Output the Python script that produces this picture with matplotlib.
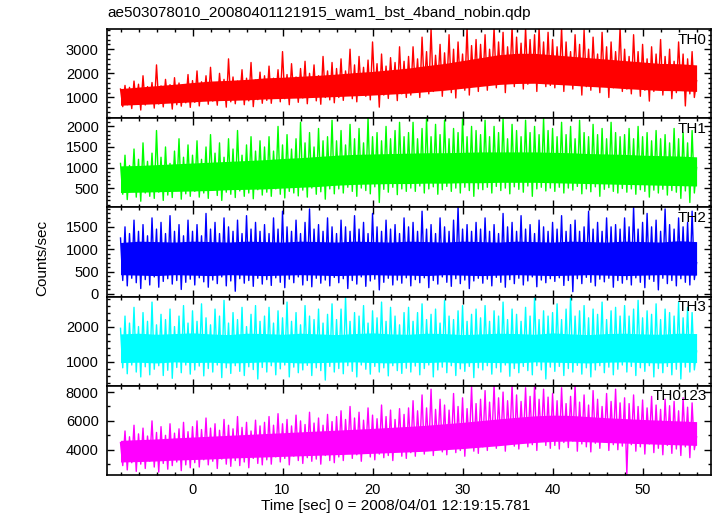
import numpy as np
import matplotlib
matplotlib.use("Agg")
import matplotlib.pyplot as plt
from matplotlib.ticker import MultipleLocator

plt.rcParams['font.family'] = ['Liberation Sans', 'DejaVu Sans']

# light curves: one sample every 0.25 s from -8 s to 56 s
# core bands: one value every 2 s over the same span
names = ["TH0", "TH1", "TH2", "TH3", "TH0123"]
colors = ["#ff0000", "#00ff00", "#0000ff", "#00ffff", "#ff00ff"]

# TH0
th0_lc = [1350, 620, 1500, 700, 1420, 540, 1680, 760, 1550, 480, 1900, 690, 1450, 820, 1620, 560, 2350, 730, 1480, 610, 1750, 850, 1530, 520, 1820, 700, 1600, 640, 1400, 780, 1950, 590,
          1700, 800, 2100, 650, 1650, 900, 1900, 720, 2250, 850, 1600, 680, 2000, 950, 1750, 600, 2600, 820, 1850, 740, 1680, 980, 2150, 700, 1800, 860, 2450, 620, 1720, 910, 2050, 760,
          1900, 880, 2300, 760, 1800, 1050, 2150, 820, 2900, 950, 1950, 700, 2400, 1100, 1850, 800, 2200, 980, 2500, 740, 2000, 1080, 2350, 860, 1900, 720, 2700, 1000, 2100, 900, 2450, 780,
          2200, 1000, 2600, 880, 2100, 1200, 3000, 950, 2350, 820, 2700, 1150, 2250, 1050, 2550, 900, 3300, 1250, 2400, 600, 2800, 1100, 2300, 960, 2650, 1280, 2450, 870, 3100, 1150, 2500, 1000,
          2700, 1100, 3100, 1300, 2600, 1000, 3500, 1400, 2900, 1150, 3850, 1250, 2750, 1450, 3200, 1050, 2850, 1350, 3600, 1200, 3000, 980, 3300, 1450, 2800, 1300, 3900, 1100, 3150, 1500, 3400, 1250,
          3200, 1500, 3600, 1300, 3000, 1700, 3900, 1400, 3300, 1600, 3700, 1200, 3100, 1750, 3900, 1450, 3500, 1650, 3250, 1350, 3900, 1550, 3400, 1700, 3600, 1250, 3900, 1600, 3300, 1450, 3700, 1500,
          3400, 1400, 3100, 1600, 3900, 1250, 3300, 1550, 2900, 1350, 3600, 1650, 3200, 1100, 3800, 1450, 3000, 1300, 3500, 1600, 2800, 1200, 3700, 1500, 3100, 1000, 3300, 1400, 2900, 1550, 3900, 1250,
          3000, 1350, 2700, 1150, 3600, 1400, 2900, 1050, 3200, 1300, 2600, 850, 3100, 1250, 2800, 1400, 3400, 1100, 2700, 1300, 3000, 950, 2500, 1200, 3300, 1350, 2800, 650, 2600, 1150, 2900, 1000,
          1700]
th0_lo = [680, 710, 740, 780, 820, 860, 880, 900, 940, 960, 980, 1010, 1040, 1070, 1100, 1140, 1180,
          1240, 1300, 1380, 1460, 1540, 1580, 1590, 1550, 1510, 1460, 1420, 1370, 1330, 1290, 1280, 1250]
th0_hi = [1370, 1430, 1490, 1550, 1620, 1680, 1710, 1750, 1810, 1840, 1880, 1920, 1970, 2030, 2080, 2150, 2220,
          2320, 2410, 2530, 2650, 2770, 2830, 2830, 2770, 2710, 2650, 2590, 2530, 2470, 2410, 2400, 2350]

# TH1
th1_lc = [1100, 350, 1300, 220, 1050, 420, 1450, 280, 1200, 180, 1600, 380, 1150, 300, 1350, 250, 1900, 400, 1250, 200, 1500, 330, 1100, 270, 1400, 440, 1700, 230, 1250, 360, 1550, 300,
          1300, 420, 1650, 280, 1200, 380, 1500, 250, 1800, 450, 1350, 320, 1600, 200, 1250, 400, 1700, 350, 1450, 270, 1900, 430, 1300, 300, 1550, 380, 1750, 240, 1400, 460, 1650, 330,
          1500, 400, 1750, 300, 1400, 480, 2000, 350, 1550, 260, 1800, 420, 1450, 380, 1700, 310, 2100, 450, 1600, 280, 1850, 500, 1500, 350, 1950, 410, 1650, 230, 1750, 480, 2150, 360,
          1650, 480, 1900, 380, 1550, 520, 2050, 420, 1700, 300, 1950, 500, 1600, 440, 2200, 360, 1750, 530, 1850, 150, 1650, 470, 2000, 400, 1700, 520, 1900, 340, 2100, 480, 1750, 420,
          1850, 500, 2100, 420, 1700, 550, 1950, 380, 2200, 480, 1750, 530, 2050, 350, 1800, 460, 2150, 540, 1700, 420, 1950, 500, 1850, 380, 2200, 520, 1750, 440, 2000, 300, 1900, 480,
          1800, 460, 2150, 520, 1750, 380, 2000, 540, 1850, 440, 2200, 500, 1700, 360, 2050, 530, 1900, 470, 1750, 400, 2150, 550, 1850, 300, 2000, 480, 1800, 520, 2200, 430, 1900, 500,
          1950, 420, 1750, 520, 2100, 380, 1800, 500, 2000, 450, 1700, 540, 2150, 360, 1850, 480, 1750, 410, 2050, 530, 1800, 300, 1950, 470, 1700, 510, 2100, 420, 1850, 380, 1750, 490,
          1800, 400, 1950, 480, 1700, 350, 2000, 460, 1750, 420, 1850, 280, 1650, 450, 1900, 380, 1700, 470, 1800, 330, 1600, 440, 1950, 400, 1700, 250, 1850, 430, 1600, 150, 1900, 380,
          1000]
th1_lo = [390, 400, 410, 420, 430, 440, 460, 470, 480, 500, 520, 540, 570, 590, 600, 610, 610,
          620, 620, 630, 630, 640, 640, 640, 630, 620, 610, 600, 590, 580, 570, 560, 550]
th1_hi = [1040, 1050, 1070, 1090, 1110, 1130, 1150, 1170, 1190, 1220, 1240, 1270, 1300, 1320, 1330, 1340, 1350,
          1360, 1360, 1370, 1380, 1380, 1380, 1380, 1370, 1360, 1340, 1330, 1320, 1300, 1290, 1280, 1260]

# TH2
th2_lc = [1250, 300, 1500, 180, 1350, 350, 1650, 250, 1400, 120, 1550, 320, 1300, 200, 1700, 380, 1450, 150, 1600, 280, 1350, 340, 1750, 220, 1400, 300, 1550, 100, 1300, 260, 1650, 330,
          1400, 200, 1550, 360, 1300, 270, 1800, 150, 1450, 310, 1600, 230, 1350, 380, 1700, 180, 1500, 290, 1400, 60, 1650, 340, 1350, 240, 1750, 300, 1450, 170, 1600, 350, 1400, 220,
          1550, 320, 1350, 190, 1700, 360, 1450, 260, 1850, 140, 1500, 330, 1400, 250, 1650, 380, 1350, 200, 1600, 300, 1900, 160, 1450, 350, 1550, 240, 1400, 310, 1700, 180, 1500, 370,
          1350, 250, 1650, 340, 1500, 120, 1400, 300, 1750, 220, 1450, 380, 1600, 170, 1350, 290, 1800, 330, 1500, 90, 1400, 260, 1650, 350, 1450, 200, 1550, 310, 1350, 240, 1700, 360,
          1500, 180, 1600, 320, 1400, 250, 1850, 360, 1450, 140, 1550, 300, 1350, 220, 1700, 380, 1500, 260, 1400, 170, 1650, 340, 1950, 230, 1450, 310, 1550, 120, 1400, 290, 1600, 350,
          1450, 240, 1700, 330, 1400, 180, 1550, 370, 1350, 260, 1800, 150, 1500, 320, 1600, 230, 1400, 350, 1750, 200, 1450, 290, 1550, 380, 1350, 160, 1650, 310, 1500, 250, 1400, 340,
          1600, 280, 1450, 360, 1750, 190, 1400, 300, 1550, 50, 1650, 340, 1400, 230, 1500, 370, 1850, 260, 1450, 180, 1600, 330, 1400, 270, 1700, 350, 1500, 150, 1550, 300, 1450, 240,
          1700, 320, 1500, 200, 1950, 360, 1450, 260, 1600, 140, 1800, 330, 1500, 280, 1650, 90, 1400, 350, 1900, 230, 1550, 300, 1450, 180, 1700, 340, 1500, 260, 1600, 200, 1850, 320,
          700]
th2_lo = [430, 420, 410, 430, 420, 410, 430, 420, 410, 420, 430, 420, 410, 420, 430, 420, 420,
          410, 430, 420, 410, 420, 430, 420, 410, 420, 430, 420, 410, 420, 430, 420, 420]
th2_hi = [1150, 1180, 1170, 1160, 1180, 1170, 1160, 1180, 1170, 1160, 1180, 1170, 1160, 1180, 1170, 1160, 1180,
          1170, 1160, 1180, 1170, 1160, 1180, 1170, 1160, 1180, 1170, 1160, 1180, 1170, 1160, 1190, 1170]

# TH3
th3_lc = [1950, 820, 2300, 650, 2100, 900, 2550, 700, 2000, 560, 2400, 850, 2150, 620, 2700, 780, 2050, 880, 2350, 600, 2200, 750, 2500, 520, 2000, 830, 2300, 680, 2600, 900, 2100, 640,
          2450, 760, 2150, 870, 2650, 590, 2250, 800, 2050, 700, 2500, 900, 2300, 540, 2750, 820, 2100, 660, 2400, 880, 2200, 720, 2550, 600, 2000, 850, 2350, 770, 2600, 500, 2150, 830,
          2300, 700, 2550, 880, 2100, 620, 2450, 790, 2250, 900, 2700, 560, 2150, 840, 2400, 680, 2050, 760, 2600, 890, 2300, 600, 2200, 820, 2500, 740, 2100, 470, 2350, 860, 2650, 700,
          2200, 800, 2500, 650, 2850, 880, 2150, 720, 2400, 560, 2300, 900, 2600, 780, 2100, 640, 2450, 860, 2250, 700, 2700, 820, 2150, 590, 2550, 880, 2300, 740, 2050, 660, 2400, 810,
          2550, 700, 2150, 870, 2400, 620, 2650, 800, 2200, 900, 2350, 560, 2500, 760, 2100, 840, 2750, 680, 2300, 880, 2200, 600, 2450, 790, 2600, 720, 2150, 860, 2350, 540, 2500, 820,
          2250, 760, 2600, 880, 2150, 640, 2450, 820, 2300, 700, 2700, 900, 2200, 580, 2500, 800, 2350, 680, 2150, 860, 2550, 740, 2300, 620, 2850, 880, 2200, 760, 2450, 500, 2300, 840,
          2400, 720, 2650, 860, 2200, 600, 2500, 800, 2850, 700, 2300, 890, 2450, 640, 2600, 820, 2250, 560, 2500, 760, 2350, 880, 2700, 680, 2200, 840, 2450, 620, 2550, 780, 2300, 900,
          2600, 700, 2300, 860, 2500, 600, 2750, 820, 2250, 720, 2450, 880, 2350, 560, 2650, 800, 2200, 680, 2500, 860, 2400, 620, 2300, 780, 2700, 500, 2250, 840, 2550, 700, 2400, 760,
          1300]
th3_lo = [970, 980, 960, 990, 970, 980, 960, 970, 990, 980, 960, 970, 980, 990, 970, 960, 980,
          970, 990, 960, 980, 970, 960, 990, 980, 970, 960, 980, 990, 970, 960, 980, 970]
th3_hi = [1790, 1810, 1780, 1800, 1820, 1790, 1770, 1810, 1800, 1780, 1810, 1790, 1770, 1800, 1820, 1790, 1780,
          1810, 1800, 1770, 1790, 1810, 1800, 1780, 1820, 1790, 1770, 1800, 1810, 1790, 1780, 1810, 1800]

# TH0123
th0123_lc = [4500, 2900, 5300, 2600, 4900, 3100, 5700, 2500, 5100, 3000, 5500, 2700, 4950, 3200, 6000, 2800, 5200, 2450, 5600, 3050, 5000, 2650, 5800, 2900, 5150, 3150, 5450, 2550, 5900, 2950, 5250, 2750,
             5600, 3100, 6000, 2800, 5400, 3300, 6200, 2950, 5500, 3200, 5800, 2700, 5350, 3350, 6100, 3000, 5700, 2850, 5450, 3250, 6300, 2900, 5550, 3150, 5900, 2750, 5300, 3400, 6050, 3050, 5650, 2950,
             5900, 3300, 6300, 3000, 5700, 3500, 6500, 3150, 5800, 3400, 6100, 2950, 5650, 3550, 6400, 3250, 6000, 3050, 5750, 3450, 6600, 3200, 5850, 3350, 6200, 3000, 5700, 3600, 6450, 3250, 5950, 3100,
             6300, 3500, 6700, 3250, 6100, 3750, 7000, 3400, 6200, 3650, 6600, 3200, 6050, 3850, 6900, 3500, 6400, 3300, 6150, 3700, 7100, 3450, 6300, 3600, 6750, 3250, 6100, 3900, 6850, 3550, 6450, 3400,
             6900, 3800, 7400, 3550, 6700, 4100, 7800, 3700, 6900, 4000, 8200, 3600, 6800, 4250, 7500, 3850, 7100, 3650, 6750, 4150, 7900, 3800, 7000, 3950, 7600, 3550, 6850, 4300, 8400, 3900, 7200, 3750,
             7500, 4200, 8100, 3950, 7300, 4550, 8500, 4100, 7600, 4400, 8000, 3900, 7400, 4650, 8500, 4250, 7800, 4050, 7350, 4500, 8300, 4200, 7700, 4350, 8500, 3950, 7500, 4700, 8200, 4300, 7650, 4100,
             7900, 4300, 7400, 4050, 8300, 4500, 7200, 4150, 7700, 4600, 8500, 3900, 7300, 4400, 7800, 4200, 7100, 3850, 8100, 4450, 7500, 4100, 7000, 4550, 7900, 3950, 7350, 4350, 8200, 4000, 7250, 4250,
             7600, 2300, 7200, 4350, 7800, 3900, 7000, 4200, 7450, 3700, 6900, 4400, 7700, 3800, 7100, 4100, 6800, 3650, 7500, 4300, 7050, 3750, 7350, 4050, 6700, 3600, 7600, 4200, 6950, 3450, 7250, 4000,
             4900]
th0123_lo = [3150, 3180, 3220, 3280, 3320, 3360, 3420, 3460, 3500, 3540, 3580, 3620, 3660, 3700, 3750, 3800, 3850,
             3900, 4000, 4080, 4180, 4280, 4400, 4500, 4580, 4600, 4550, 4500, 4460, 4420, 4380, 4340, 4300]
th0123_hi = [4650, 4700, 4750, 4820, 4880, 4940, 5000, 5060, 5120, 5180, 5240, 5300, 5360, 5420, 5480, 5550, 5620,
             5700, 5800, 5900, 6020, 6140, 6250, 6350, 6400, 6380, 6300, 6220, 6160, 6100, 6050, 6000, 5950]

curves = [th0_lc, th1_lc, th2_lc, th3_lc, th0123_lc]
lows = [th0_lo, th1_lo, th2_lo, th3_lo, th0123_lo]
highs = [th0_hi, th1_hi, th2_hi, th3_hi, th0123_hi]

ylims = [(142, 3837), (30, 2200), (-60, 1935), (306, 2857), (2248, 8434)]
majors = [1000, 500, 500, 1000, 2000]
minors = [200, 100, 100, 200, 1000]

fig = plt.figure(figsize=(7.17, 5.16), dpi=100)
gs = fig.add_gridspec(5, 1, left=107/717, right=711/717, top=1-29/516, bottom=1-475/516, hspace=0)

for i in range(5):
    ax = fig.add_subplot(gs[i])
    t = np.linspace(-8.0, 56.0, len(curves[i]))
    t2 = np.linspace(-8.0, 56.0, len(lows[i]))
    ax.fill_between(t2, lows[i], highs[i], color=colors[i], lw=0)
    ax.plot(t, curves[i], color=colors[i], lw=1.0)
    ax.set_xlim(-9.5, 57.6)
    ax.set_ylim(ylims[i])
    ax.xaxis.set_major_locator(MultipleLocator(10))
    ax.xaxis.set_minor_locator(MultipleLocator(2))
    ax.yaxis.set_major_locator(MultipleLocator(majors[i]))
    ax.yaxis.set_minor_locator(MultipleLocator(minors[i]))
    ax.tick_params(which='both', direction='in', top=True, right=True, labelsize=10.5, pad=6, width=1)
    ax.tick_params(which='major', length=5)
    ax.tick_params(which='minor', length=2.5)
    for s in ax.spines.values():
        s.set_linewidth(1.2)
    if i < 4:
        ax.tick_params(labelbottom=False)
    ax.text(0.993, 0.96, names[i], transform=ax.transAxes, ha='right', va='top', fontsize=11)

fig.text(107/717, 1-13/516, "ae503078010_20080401121915_wam1_bst_4band_nobin.qdp",
         ha='left', va='center', fontsize=11)
fig.text(396/717, 1-506/516, "Time [sec] 0 = 2008/04/01 12:19:15.781",
         ha='center', va='center', fontsize=11)
fig.text(42/717, 1-258/516, "Counts/sec", rotation=90, ha='center', va='center', fontsize=11)

fig.savefig("out.png", dpi=100)
